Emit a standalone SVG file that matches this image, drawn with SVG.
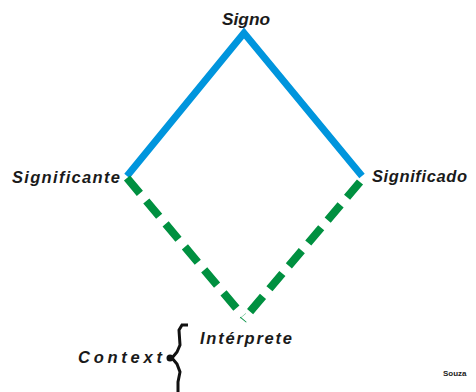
<svg xmlns="http://www.w3.org/2000/svg" width="476" height="392" viewBox="0 0 476 392">
<style>
.lbl{font-family:"Liberation Sans",Arial,sans-serif;font-weight:bold;font-style:italic;font-size:16.5px;fill:#1a1a1a}
.blue{stroke:#0095dd;stroke-width:7;fill:none}
.green{stroke:#009040;stroke-width:8;fill:none;stroke-dasharray:20 10}
</style>
<rect width="476" height="392" fill="#fff"/>
<g id="connectors">
<polyline class="blue" points="127,176 244,33 362,176"/>
<path class="green" d="M127,178 L243,316"/>
<path class="green" d="M360,182 L243,320"/>
<path d="M188,325 L182,325 L179,330 L180,345 L177,352 L172,358 L177,364 L180,372 L178,382 L178,392" fill="none" stroke="#111" stroke-width="3"/>
<circle cx="170" cy="358" r="3.5" fill="#111"/>
</g>
<g id="signo"><text class="lbl" x="222" y="25" textLength="48" lengthAdjust="spacingAndGlyphs">Signo</text></g>
<g id="significante"><text class="lbl" x="12" y="183" textLength="108" lengthAdjust="spacing">Significante</text></g>
<g id="significado"><text class="lbl" x="372" y="182" textLength="95" lengthAdjust="spacing">Significado</text></g>
<g id="interprete"><text class="lbl" x="200" y="344" textLength="92" lengthAdjust="spacing">Intérprete</text></g>
<g id="context"><text class="lbl" x="78" y="363" textLength="84" lengthAdjust="spacing">Context</text></g>
<g id="souza"><text x="443" y="376" font-family="'Liberation Sans',Arial,sans-serif" font-weight="bold" font-size="8" fill="#222">Souza</text></g>
</svg>
